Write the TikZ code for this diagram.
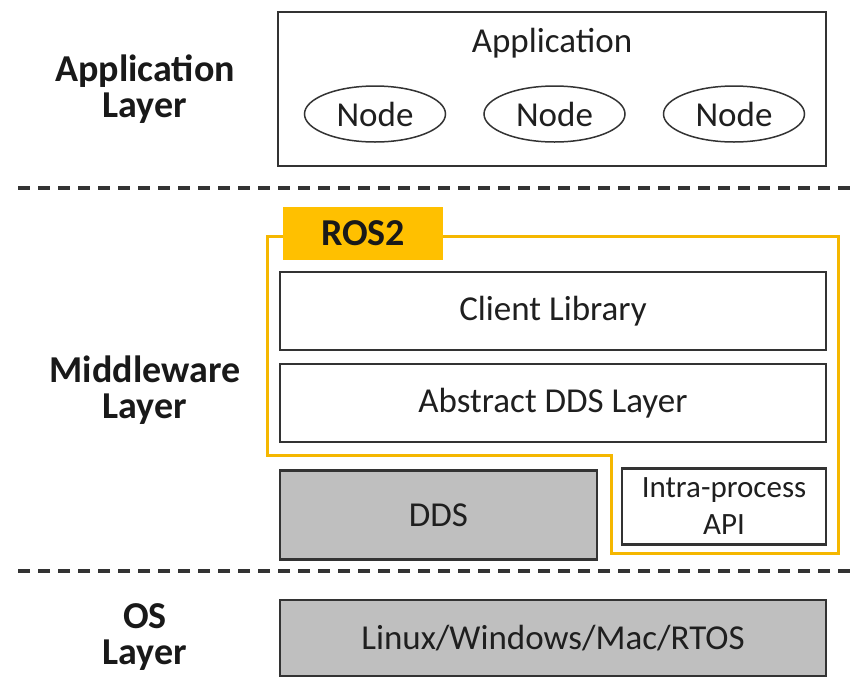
\documentclass[tikz,border=0pt]{standalone}
\usepackage{fontspec}
\setmainfont{Carlito}
\usetikzlibrary{shapes,positioning}
\definecolor{rosyellow}{HTML}{F5B700}
\definecolor{rosfill}{HTML}{FFC000}
\definecolor{osgray}{HTML}{BFBFBF}
\definecolor{edgegray}{HTML}{333333}
\tikzset{
    block/.style = {draw=edgegray, line width=2.2pt, rectangle,
        minimum width=546pt,
        minimum height=78pt,
        text=black!88, font=\fontsize{35}{40}\selectfont},
    grayblock/.style = {block, fill=osgray},
    nodeoval/.style = {draw=edgegray, line width=1.5pt, ellipse, inner sep=0pt,
        minimum width=141pt, minimum height=56pt,
        text=black!88, font=\fontsize{35}{40}\selectfont},
    layer/.style = {align=center, inner sep=0pt, text=black!90,
        font=\bfseries\fontsize{38}{36}\selectfont},
    sep/.style = {draw=black!80, line width=3.5pt, dash pattern=on 12pt off 8pt},
    rosline/.style = {draw=rosyellow, line width=3pt},
    rostab/.style = {fill=rosfill, minimum width=160pt, minimum height=53pt,
        text=black!90, font=\bfseries\fontsize{38}{40}\selectfont},
}

\begin{document}
\begin{tikzpicture}[x=1pt, y=-1pt, node distance=12pt]
		\useasboundingbox (0,0) rectangle (865,694);
		
		% Layer names
		\node [layer] (appLayer) at (145,89) {Application\\Layer};
		\node [layer] (midLayer) at (145,390) {Middleware\\Layer};
		\node [layer] (osLayer) at (145,637) {OS\\Layer};
		
		% Application
		\node [block, minimum width=548pt, minimum height=154pt] (app) at (552,89) {};
		\node [inner sep=0pt, text=black!88, font=\fontsize{35}{40}\selectfont] (appTitle) at (552,43) {Application};
		\node [nodeoval] (node1) at (375,114) {Node};
		\node [nodeoval, right=37pt of node1] (node2) {Node};
		\node [nodeoval, right=37pt of node2] (node3) {Node};
		
		%% separators
		\draw [sep] (18,188) -- (855,188);
		\draw [sep] (18,571) -- (855,571);
		
		% ROS2
		\draw [rosline] (267,236) -- (838,236) -- (838,553) -- (611,553) -- (611,455) -- (267,455) -- cycle;
		\node [rostab] (ros) at (363,233) {ROS2};
		
		\node [block] (client) at (553,311) {Client Library};
		\node [block, below=of client] (abstract) {Abstract DDS Layer};
		
		\node [grayblock, minimum width=317pt, minimum height=89pt,
			below right=26pt and 0pt of abstract.south west] (dds) {DDS};
		\node [block, minimum width=204pt, minimum height=76pt, align=center,
			font=\fontsize{31}{37}\selectfont,
			below left=24pt and 0pt of abstract.south east] (intra) {Intra-process\\API};
		
		% OS
		\node [grayblock, minimum height=76pt] (os) at (553,638) {Linux/Windows/Mac/RTOS};

	\end{tikzpicture}
\end{document}
